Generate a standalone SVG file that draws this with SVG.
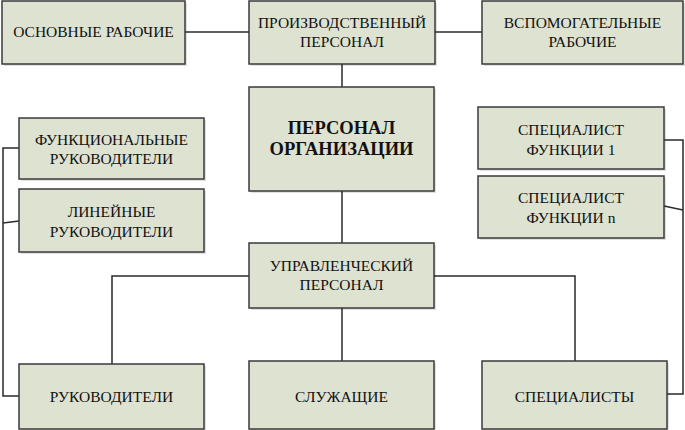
<svg xmlns="http://www.w3.org/2000/svg" width="685" height="430" viewBox="0 0 685 430">
<defs>
<style>
.box{fill:#dde2d1;stroke:#3a3a3a;stroke-width:1.5}
.sh{fill:#000;opacity:0.12}
.t{font-size:15.5px;fill:#111;text-anchor:middle}
.b{font-weight:bold;font-size:18.5px}
.c{fill:none;stroke:#2a2a2a;stroke-width:1.5}
</style>
</defs>
<rect width="685" height="430" fill="#fff"/>
<g id="connectors">
<path class="c" d="M185,32H249"/>
<path class="c" d="M435,32H482"/>
<path class="c" d="M342,64V87"/>
<path class="c" d="M342,191V243"/>
<path class="c" d="M249,276H112V364"/>
<path class="c" d="M434,276H575V361"/>
<path class="c" d="M342,308V361"/>
<path class="c" d="M19,148H3V396H19"/>
<path class="c" d="M3,223L19,221"/>
<path class="c" d="M664,140H683V394H667"/>
<path class="c" d="M664,206L683,210"/>
</g>
<g id="n-osn">
<rect class="sh" x="4" y="3" width="183" height="63"/>
<rect class="box" x="2" y="1" width="183" height="63"/>
<text class="t" font-family="Liberation Serif" x="93.5" y="37">ОСНОВНЫЕ РАБОЧИЕ</text>
</g>
<g id="n-proizv">
<rect class="sh" x="251" y="3" width="186" height="63"/>
<rect class="box" x="249" y="1" width="186" height="63"/>
<text class="t" font-family="Liberation Serif" x="342" y="28">ПРОИЗВОДСТВЕННЫЙ</text>
<text class="t" font-family="Liberation Serif" x="342" y="47">ПЕРСОНАЛ</text>
</g>
<g id="n-vspom">
<rect class="sh" x="484" y="3" width="201" height="63"/>
<rect class="box" x="482" y="1" width="201" height="63"/>
<text class="t" font-family="Liberation Serif" x="582.5" y="28">ВСПОМОГАТЕЛЬНЫЕ</text>
<text class="t" font-family="Liberation Serif" x="582.5" y="47">РАБОЧИЕ</text>
</g>
<g id="n-main">
<rect class="sh" x="251" y="89" width="185" height="104"/>
<rect class="box" x="249" y="87" width="185" height="104"/>
<text class="t b" font-family="Liberation Serif" x="341.5" y="134">ПЕРСОНАЛ</text>
<text class="t b" font-family="Liberation Serif" x="341.5" y="155">ОРГАНИЗАЦИИ</text>
</g>
<g id="n-func">
<rect class="sh" x="21" y="120" width="185" height="61"/>
<rect class="box" x="19" y="118" width="185" height="61"/>
<text class="t" font-family="Liberation Serif" x="111.5" y="145">ФУНКЦИОНАЛЬНЫЕ</text>
<text class="t" font-family="Liberation Serif" x="111.5" y="164">РУКОВОДИТЕЛИ</text>
</g>
<g id="n-lin">
<rect class="sh" x="21" y="191" width="185" height="63"/>
<rect class="box" x="19" y="189" width="185" height="63"/>
<text class="t" font-family="Liberation Serif" x="111.5" y="217">ЛИНЕЙНЫЕ</text>
<text class="t" font-family="Liberation Serif" x="111.5" y="237">РУКОВОДИТЕЛИ</text>
</g>
<g id="n-spec1">
<rect class="sh" x="480" y="109" width="186" height="62"/>
<rect class="box" x="478" y="107" width="186" height="62"/>
<text class="t" font-family="Liberation Serif" x="571" y="135">СПЕЦИАЛИСТ</text>
<text class="t" font-family="Liberation Serif" x="571" y="155">ФУНКЦИИ 1</text>
</g>
<g id="n-specn">
<rect class="sh" x="480" y="178" width="186" height="62"/>
<rect class="box" x="478" y="176" width="186" height="62"/>
<text class="t" font-family="Liberation Serif" x="571" y="203">СПЕЦИАЛИСТ</text>
<text class="t" font-family="Liberation Serif" x="571" y="223">ФУНКЦИИ n</text>
</g>
<g id="n-upr">
<rect class="sh" x="251" y="245" width="185" height="65"/>
<rect class="box" x="249" y="243" width="185" height="65"/>
<text class="t" font-family="Liberation Serif" x="341.5" y="271">УПРАВЛЕНЧЕСКИЙ</text>
<text class="t" font-family="Liberation Serif" x="341.5" y="290">ПЕРСОНАЛ</text>
</g>
<g id="n-ruk">
<rect class="sh" x="21" y="366" width="185" height="65"/>
<rect class="box" x="19" y="364" width="185" height="65"/>
<text class="t" font-family="Liberation Serif" x="111.5" y="402">РУКОВОДИТЕЛИ</text>
</g>
<g id="n-sluzh">
<rect class="sh" x="251" y="363" width="185" height="68"/>
<rect class="box" x="249" y="361" width="185" height="68"/>
<text class="t" font-family="Liberation Serif" x="341.5" y="402">СЛУЖАЩИЕ</text>
</g>
<g id="n-specs">
<rect class="sh" x="484" y="363" width="185" height="68"/>
<rect class="box" x="482" y="361" width="185" height="68"/>
<text class="t" font-family="Liberation Serif" x="574.5" y="402">СПЕЦИАЛИСТЫ</text>
</g>
</svg>
